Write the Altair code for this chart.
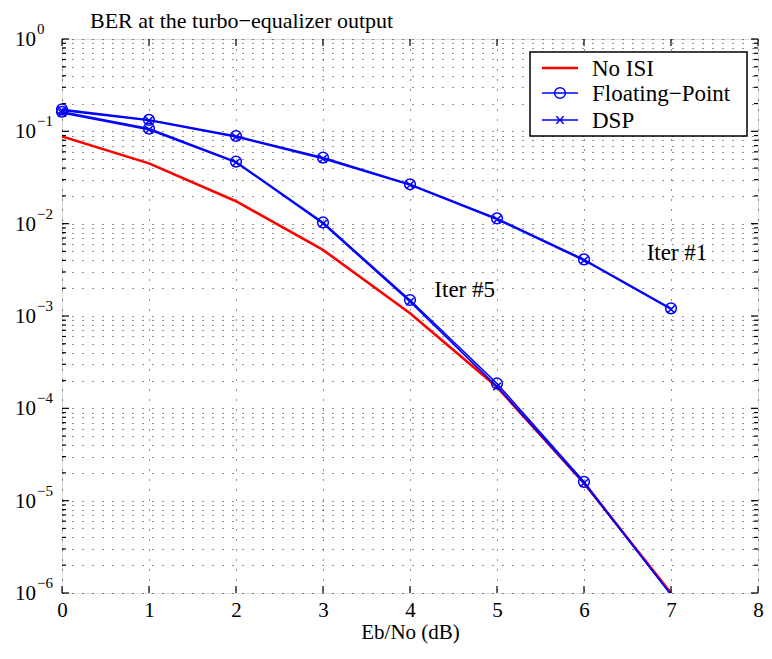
import altair as alt
import pandas as pd

# ---------------- data ----------------
EBNO = [0, 1, 2, 3, 4, 5, 6, 7]
NO_ISI = [0.088, 0.045, 0.0175, 0.0052, 0.00107, 1.7e-4, 1.55e-5, 1.0e-6]
FP_ITER1 = [0.173, 0.133, 0.089, 0.052, 0.0267, 0.0114, 0.0041, 0.00121]
DSP_ITER1 = [0.168, 0.131, 0.087, 0.0505, 0.0262, 0.0111, 0.0040, 0.00118]
FP_ITER5 = [0.163, 0.107, 0.047, 0.0103, 0.00149, 1.86e-4, 1.6e-5, 9.6e-7]
DSP_ITER5 = [0.158, 0.104, 0.046, 0.0100, 0.00143, 1.72e-4, 1.55e-5, 9.6e-7]

X_TICKS = [0, 1, 2, 3, 4, 5, 6, 7, 8]
Y_EXPONENTS = [0, -1, -2, -3, -4, -5, -6]
Y_EXP_LABELS = ["0", "\u22121", "\u22122", "\u22123", "\u22124", "\u22125", "\u22126"]
MINOR_MULT = [2, 3, 4, 5, 6, 7, 8, 9]

ANNOT_TEXT = ["Iter #1", "Iter #5"]
ANNOT_X = [6.72, 4.28]
ANNOT_Y = [4.8e-3, 1.9e-3]

LEGEND_LABELS = ["No ISI", "Floating\u2212Point", "DSP"]
TITLE = "BER at the turbo\u2212equalizer output"
XTITLE = "Eb/No (dB)"

FONT = "Times New Roman, Liberation Serif, DejaVu Serif, serif"
BLUE = "#0000ff"
RED = "#ff0000"
W, H = 696, 554
YMIN = 1e-6

# ---------------- tables ----------------
red_df = pd.DataFrame({"x": EBNO, "y": NO_ISI})
fp_df = pd.DataFrame({"x": EBNO * 2, "y": FP_ITER1 + FP_ITER5,
                      "g": ["i1"] * len(EBNO) + ["i5"] * len(EBNO)})
dsp_df = pd.DataFrame({"x": EBNO * 2, "y": DSP_ITER1 + DSP_ITER5,
                       "g": ["i1"] * len(EBNO) + ["i5"] * len(EBNO)})
y_major = [10.0 ** e for e in Y_EXPONENTS]
y_minor = [m * 10.0 ** e for e in Y_EXPONENTS[1:] for m in MINOR_MULT]
ylab_df = pd.DataFrame({"v": y_major, "base": ["10"] * len(y_major), "exp": Y_EXP_LABELS})
ymaj_df = pd.DataFrame({"v": y_major})
ymin_df = pd.DataFrame({"v": y_minor})
xt_df = pd.DataFrame({"x": X_TICKS})
ann_df = pd.DataFrame({"x": ANNOT_X, "y": ANNOT_Y, "t": ANNOT_TEXT})
one = pd.DataFrame({"a": [0]})

xscale = alt.Scale(domain=[0, 8], nice=False, zero=False)
yscale = alt.Scale(type="log", domain=[YMIN, 1], nice=False)
xaxis = alt.Axis(values=X_TICKS, grid=True, ticks=False, domain=False, labelFlush=False,
                 labelFont=FONT, labelFontSize=21, labelColor="black", labelPadding=6,
                 title=XTITLE, titleFont=FONT, titleFontSize=21, titleFontWeight="normal",
                 titleColor="black", titlePadding=1,
                 gridColor="black", gridDash=[1, 9], gridWidth=1, gridOpacity=0.85)
yaxis = alt.Axis(values=y_major + y_minor, grid=True, ticks=False, domain=False,
                 labels=False, title=None,
                 gridColor="black", gridDash=[1, 9], gridWidth=1, gridOpacity=0.85)

X = lambda f: alt.X(f, scale=xscale, axis=xaxis)
Y = lambda f: alt.Y(f, scale=yscale, axis=yaxis)

red = alt.Chart(red_df).mark_line(color=RED, strokeWidth=2.6, clip=True).encode(x=X("x:Q"), y=Y("y:Q"))
fp_line = alt.Chart(fp_df).mark_line(color=BLUE, strokeWidth=1.6, clip=True).encode(
    x=X("x:Q"), y=Y("y:Q"), detail="g:N")
dsp_line = alt.Chart(dsp_df).mark_line(color=BLUE, strokeWidth=1.6, clip=True).encode(
    x=X("x:Q"), y=Y("y:Q"), detail="g:N")
fp_pts = alt.Chart(fp_df).transform_filter(alt.datum.y >= YMIN).mark_point(
    shape="circle", size=115, filled=False, color=BLUE, strokeWidth=1.5, opacity=1
).encode(x=X("x:Q"), y=Y("y:Q"))
XSHAPE = "M-1,-1L1,1M-1,1L1,-1"
dsp_pts = alt.Chart(dsp_df).transform_filter(alt.datum.y >= YMIN).mark_point(
    shape=XSHAPE, size=55, filled=False, color=BLUE, strokeWidth=1.5, opacity=1
).encode(x=X("x:Q"), y=Y("y:Q"))

# inward ticks (MATLAB style)
def yticks(df, x0, x1):
    return alt.Chart(df).mark_rule(color="black", strokeWidth=1.2).encode(
        y=Y("v:Q"), x=alt.value(x0), x2=alt.value(x1))

def xticks(y0, y1):
    return alt.Chart(xt_df).mark_rule(color="black", strokeWidth=1.2).encode(
        x=X("x:Q"), y=alt.value(y0), y2=alt.value(y1))

ticks = [yticks(ymaj_df, 0, 7), yticks(ymaj_df, W - 7, W),
         yticks(ymin_df, 0, 4), yticks(ymin_df, W - 4, W),
         xticks(H - 7, H), xticks(0, 7)]

ylab_base = alt.Chart(ylab_df).mark_text(font=FONT, fontSize=21, align="right", baseline="middle",
                                         color="black", dy=1).encode(
    y=Y("v:Q"), x=alt.value(-26), text="base:N")
ylab_exp = alt.Chart(ylab_df).mark_text(font=FONT, fontSize=15, align="left", baseline="middle",
                                        color="black", dy=-10).encode(
    y=Y("v:Q"), x=alt.value(-25), text="exp:N")

annot = alt.Chart(ann_df).mark_text(font=FONT, fontSize=23, align="left", baseline="middle",
                                    color="black").encode(x=X("x:Q"), y=Y("y:Q"), text="t:N")

title = alt.Chart(one).mark_text(font=FONT, fontSize=22, align="left", baseline="middle",
                                 color="black", text=TITLE).encode(x=alt.value(28), y=alt.value(-18))

# legend (layout in pixels)
LX0, LX1, LY0, LY1 = 468, 685, 13, 97
ROWS = [29, 54, 81]
leg_box = alt.Chart(one).mark_rect(fill="white", stroke="black", strokeWidth=1.5).encode(
    x=alt.value(LX0), x2=alt.value(LX1), y=alt.value(LY0), y2=alt.value(LY1))
leg_lines = [
    alt.Chart(one).mark_rule(color=c, strokeWidth=w).encode(
        x=alt.value(LX0 + 12), x2=alt.value(LX0 + 48), y=alt.value(r))
    for c, w, r in [(RED, 2.6, ROWS[0]), (BLUE, 1.6, ROWS[1]), (BLUE, 1.6, ROWS[2])]
]
leg_circ = alt.Chart(one).mark_point(shape="circle", size=115, filled=False, color=BLUE,
                                     strokeWidth=1.5, opacity=1).encode(x=alt.value(LX0 + 30), y=alt.value(ROWS[1]))
leg_x = alt.Chart(one).mark_point(shape=XSHAPE, size=55, filled=False, color=BLUE,
                                  strokeWidth=1.5, opacity=1).encode(x=alt.value(LX0 + 30), y=alt.value(ROWS[2]))
leg_text = [
    alt.Chart(one).mark_text(font=FONT, fontSize=23, align="left", baseline="middle",
                             color="black", text=t).encode(x=alt.value(LX0 + 62), y=alt.value(r + 1))
    for t, r in zip(LEGEND_LABELS, ROWS)
]

chart = alt.layer(
    red, fp_line, dsp_line, fp_pts, dsp_pts, *ticks, ylab_base, ylab_exp, annot, title,
    leg_box, *leg_lines, leg_circ, leg_x, *leg_text
).properties(
    width=W, height=H,
    autosize=alt.AutoSizeParams(type="none"),
    padding={"left": 54, "top": 31, "right": 6, "bottom": 54},
).configure_view(stroke="black", strokeWidth=2).configure(background="white")

chart.save("out.html", embed_options={"renderer": "svg", "actions": False})
